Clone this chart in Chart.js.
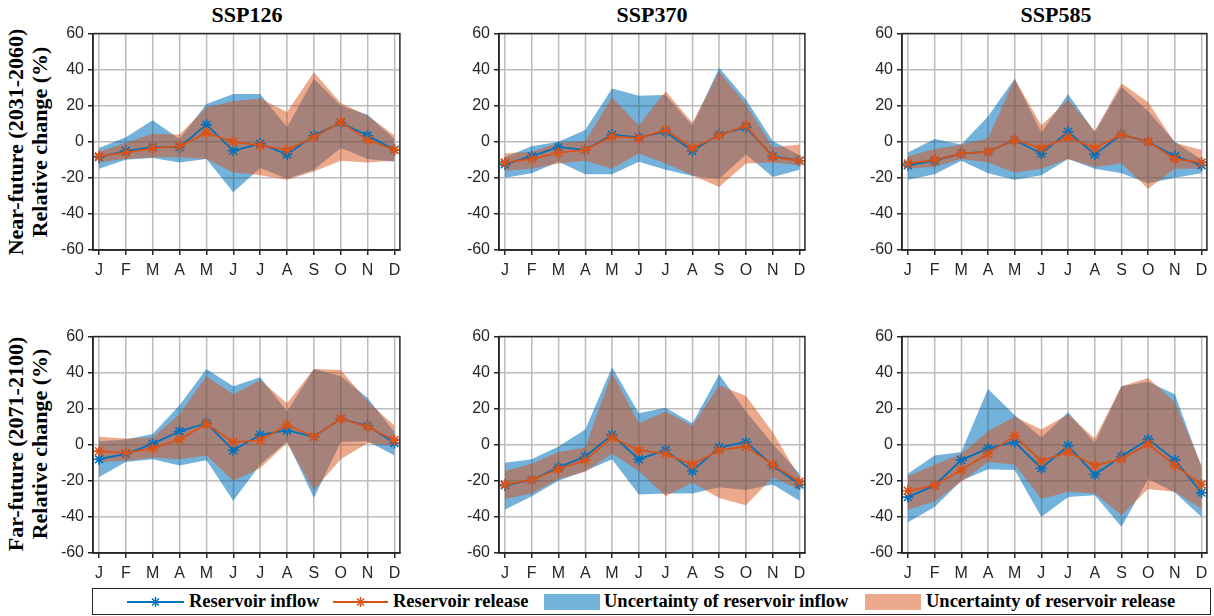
<!DOCTYPE html>
<html>
<head>
<meta charset="utf-8">
<script src="https://cdn.jsdelivr.net/npm/chart.js@4.4.1/dist/chart.umd.min.js"></script>
<style>
  body { margin: 0; background: #fff; }
  #page { position: relative; width: 1214px; height: 616px; overflow: hidden; background: #fff; }
  .box { position: absolute; }
  .title { position: absolute; width: 300px; text-align: center; font: bold 22px "Liberation Serif", serif; color: #000; }
  .ylab { position: absolute; width: 270px; height: 48px; text-align: center; font: bold 22px/24px "Liberation Serif", serif; color: #000; transform: rotate(-90deg); }
  #legend { position: absolute; left: 92px; top: 588px; width: 1119px; height: 27px; box-sizing: border-box; border: 1px solid #262626; background: #fff; }
  #legend .t { position: absolute; top: 0; font: bold 18.5px/25px "Liberation Serif", serif; color: #000; white-space: nowrap; }
  #legend svg, #legend .patch { position: absolute; }
</style>
</head>
<body>
<div id="page">
  <div class="title" style="left:97px;top:2px">SSP126</div>
  <div class="title" style="left:502px;top:2px">SSP370</div>
  <div class="title" style="left:906px;top:2px">SSP585</div>

  <div class="ylab" style="left:-107px;top:118px">Near-future (2031-2060)<br>Relative change (%)</div>
  <div class="ylab" style="left:-107px;top:420px">Far-future (2071-2100)<br>Relative change (%)</div>

  <div class="box" style="left:43px;top:20px"><canvas id="p1" width="364" height="262"></canvas></div>
  <div class="box" style="left:449px;top:20px"><canvas id="p2" width="363" height="262"></canvas></div>
  <div class="box" style="left:852px;top:20px"><canvas id="p3" width="362" height="262"></canvas></div>
  <div class="box" style="left:43px;top:323px"><canvas id="p4" width="364" height="262"></canvas></div>
  <div class="box" style="left:449px;top:323px"><canvas id="p5" width="363" height="262"></canvas></div>
  <div class="box" style="left:852px;top:323px"><canvas id="p6" width="362" height="262"></canvas></div>

  <div id="legend">
    <svg style="left:34px;top:4px" width="57" height="18">
      <line x1="0" y1="9" x2="57" y2="9" stroke="rgb(0,114,189)" stroke-width="2"/>
      <g stroke="rgb(0,114,189)" stroke-width="1.5">
        <line x1="28.5" y1="4" x2="28.5" y2="14"/><line x1="23.5" y1="9" x2="33.5" y2="9"/>
        <line x1="25" y1="5.5" x2="32" y2="12.5"/><line x1="25" y1="12.5" x2="32" y2="5.5"/>
      </g>
    </svg>
    <span class="t" style="left:96px">Reservoir inflow</span>
    <svg style="left:240px;top:4px" width="55" height="18">
      <line x1="0" y1="9" x2="55" y2="9" stroke="rgb(217,83,25)" stroke-width="2"/>
      <g stroke="rgb(217,83,25)" stroke-width="1.5">
        <line x1="27.5" y1="4" x2="27.5" y2="14"/><line x1="22.5" y1="9" x2="32.5" y2="9"/>
        <line x1="24" y1="5.5" x2="31" y2="12.5"/><line x1="24" y1="12.5" x2="31" y2="5.5"/>
      </g>
    </svg>
    <span class="t" style="left:300px">Reservoir release</span>
    <div class="patch" style="left:451px;top:5px;width:56px;height:16px;background:rgba(0,114,189,0.55)"></div>
    <span class="t" style="left:511px">Uncertainty of reservoir inflow</span>
    <div class="patch" style="left:772px;top:5px;width:56px;height:16px;background:rgba(217,83,25,0.5)"></div>
    <span class="t" style="left:833px">Uncertainty of reservoir release</span>
  </div>
</div>

<script>
const months = ['J', 'F', 'M', 'A', 'M', 'J', 'J', 'A', 'S', 'O', 'N', 'D'];
const monthNums = [1, 2, 3, 4, 5, 6, 7, 8, 9, 10, 11, 12];
const yTicks = [-60, -40, -20, 0, 20, 40, 60];

// near-future (2031-2060), SSP126
const nf126Inflow  = [-8.5, -5, -3, -3, 9.5, -5, -1, -7, 3.5, 10.5, 3.5, -4.5];
const nf126Release = [-8, -6, -3.5, -2.5, 5, 0, -2, -4.5, 2.5, 11, 1, -4.5];
const nf126InHigh  = [-3.5, 2.5, 12, 1.5, 21, 26.5, 26.5, 8, 35, 20, 15, 1.5];
const nf126InLow   = [-15, -10, -9, -11.5, -9.5, -28, -14.5, -20.5, -15.5, -3.5, -9.5, -11];
const nf126ReHigh  = [-5.5, -0.5, 4.5, 4, 19, 22.5, 24, 16.5, 38.5, 21.5, 14.5, 3.5];
const nf126ReLow   = [-11.5, -9.5, -8.5, -8.5, -9.5, -17, -18.5, -21, -16.5, -10.5, -11.5, -10.5];

// near-future, SSP370
const nf370Inflow  = [-12.5, -8, -3, -4.5, 4, 2.5, 5.5, -5, 4, 8, -8, -10.5];
const nf370Release = [-11.5, -9.5, -6, -4.5, 3, 2, 6.5, -3.5, 3.5, 9, -8.5, -10.5];
const nf370InHigh  = [-8.5, -2.5, 0, 6.5, 29.5, 25.5, 26, 9, 41, 23.5, 0.5, -7.5];
const nf370InLow   = [-20, -17.5, -11, -18, -18, -11, -15.5, -19, -20.5, -7, -19.5, -15.5];
const nf370ReHigh  = [-6.5, -5.5, -0.5, 0.5, 24.5, 9, 28, 10.5, 39, 20.5, -3, -1.5];
const nf370ReLow   = [-16, -15, -12, -10.5, -15, -6.5, -12, -18.5, -25, -12, -11.5, -13];

// near-future, SSP585
const nf585Inflow  = [-13, -10.5, -6.5, -5.5, 1, -6.5, 5.5, -7, 4, 0, -8, -13];
const nf585Release = [-12, -10, -6.5, -5.5, 1, -3.5, 2.5, -3.5, 4, 0, -9.5, -11.5];
const nf585InHigh  = [-6, 1.5, -1.5, 14, 35, 5, 26.5, 5.5, 30.5, 17, 0, -10];
const nf585InLow   = [-21, -18, -10.5, -17.5, -21, -18.5, -9.5, -15, -17.5, -23, -20, -17.5];
const nf585ReHigh  = [-8, -4, -1.5, 2, 35, 9, 23.5, 6, 32.5, 22, -0.5, -4.5];
const nf585ReLow   = [-15, -14, -9.5, -11.5, -17, -15, -9.5, -14, -12, -26, -15, -15];

// far-future (2071-2100), SSP126
const ff126Inflow  = [-8, -5, 0.5, 7.5, 12, -3, 5.5, 8, 4.5, 14.5, 10.5, 1];
const ff126Release = [-3.5, -4.5, -2, 3, 11.5, 1.5, 2.5, 11, 4.5, 14.5, 10, 2.5];
const ff126InHigh  = [2, 3, 6, 22, 42, 32.5, 37.5, 18.5, 42, 38, 26, 7];
const ff126InLow   = [-18, -9.5, -8, -11.5, -8.5, -31, -11, 2, -29.5, 1.5, 2, -6];
const ff126ReHigh  = [4.5, 3.5, 4, 17, 38, 28, 36, 23, 42, 41.5, 24, 10.5];
const ff126ReLow   = [-9.5, -9, -7, -8, -6, -20, -13, 1, -25, -8, 1, -0.5];

// far-future, SSP370
const ff370Inflow  = [-22.5, -19.5, -12.5, -6.5, 5.5, -8, -3, -14.5, -1.5, 1.5, -11.5, -22];
const ff370Release = [-22, -19.5, -13.5, -8.5, 4, -3, -5, -11, -3, -1, -11, -20.5];
const ff370InHigh  = [-10, -8, -1, 8.5, 43, 17.5, 20.5, 12, 39, 18.5, 0.5, -16];
const ff370InLow   = [-36, -28.5, -20, -14.5, -8, -27.5, -27, -27, -23.5, -25, -22, -31];
const ff370ReHigh  = [-14.5, -10.5, -4, -1.5, 40, 12, 18.5, 10.5, 33, 27, 7, -18];
const ff370ReLow   = [-30, -27, -19, -15, -5, -14.5, -28.5, -21, -29.5, -33.5, -18, -25];

// far-future, SSP585
const ff585Inflow  = [-29, -22.5, -8.5, -2, 1.5, -13, -0.5, -16.5, -6.5, 3, -8.5, -26.5];
const ff585Release = [-25.5, -22.5, -14, -5, 5, -9, -4, -11.5, -8, 0.5, -11.5, -22];
const ff585InHigh  = [-16, -6, -4, 31, 16.5, 4, 18, 1, 32.5, 35, 28, -12.5];
const ff585InLow   = [-43, -34.5, -20, -13.5, -14, -40, -29, -28, -45.5, -19, -26.5, -40];
const ff585ReHigh  = [-17.5, -11, -5, 7.5, 15.5, 8.5, 17, 3.5, 32.5, 37, 23.5, -11.5];
const ff585ReLow   = [-36, -31.5, -20.5, -9.5, -11, -30, -26, -27, -39, -24.5, -26, -35.5];

const blue = 'rgb(0, 114, 189)';
const orange = 'rgb(217, 83, 25)';
const blueFill = 'rgba(0, 114, 189, 0.55)';
const orangeFill = 'rgba(217, 83, 25, 0.5)';
const axisColor = '#262626';

function pts(values) {
  return values.map((v, i) => ({ x: monthNums[i], y: v }));
}

function band(values, fillColor, order, fill) {
  return {
    data: pts(values),
    borderColor: 'rgba(0,0,0,0)',
    borderWidth: 0,
    backgroundColor: fillColor,
    pointRadius: 0,
    fill: fill,
    order: order,
  };
}

function line(values, color, order) {
  return {
    data: pts(values),
    borderColor: color,
    backgroundColor: color,
    borderWidth: 1.8,
    pointStyle: 'star',
    pointRadius: 5.5,
    pointBorderWidth: 1.6,
    pointBorderColor: color,
    fill: false,
    order: order,
  };
}

// faint grid again over the shaded bands, like the original figure
const gridOverPlugin = {
  id: 'gridOver',
  afterDatasetDraw(chart, args) {
    if (args.index !== 3) return;
    const { ctx, chartArea: a, scales } = chart;
    ctx.save();
    ctx.strokeStyle = 'rgba(60, 60, 60, 0.18)';
    ctx.lineWidth = 1.5;
    ctx.beginPath();
    scales.x.ticks.forEach(t => {
      const x = scales.x.getPixelForValue(t.value);
      ctx.moveTo(x, a.top);
      ctx.lineTo(x, a.bottom);
    });
    scales.y.ticks.forEach(t => {
      const y = scales.y.getPixelForValue(t.value);
      ctx.moveTo(a.left, y);
      ctx.lineTo(a.right, y);
    });
    ctx.stroke();
    ctx.restore();
  }
};

// box round the plot area (top and right sides as well)
const framePlugin = {
  id: 'frame',
  afterDraw(chart) {
    const { ctx, chartArea: a } = chart;
    ctx.save();
    ctx.strokeStyle = axisColor;
    ctx.lineWidth = 1.5;
    ctx.strokeRect(a.left, a.top, a.right - a.left, a.bottom - a.top);
    ctx.restore();
  }
};

function makePanel(id, inflow, release, inHigh, inLow, reHigh, reLow) {
  const config = {
    type: 'line',
    data: {
      datasets: [
        band(inHigh, blueFill, 6, '+1'),
        band(inLow, blueFill, 5, false),
        band(reHigh, orangeFill, 4, '+1'),
        band(reLow, orangeFill, 3, false),
        line(inflow, blue, 2),
        line(release, orange, 1),
      ]
    },
    options: {
      responsive: false,
      animation: false,
      events: [],
      layout: { padding: { top: 12, right: 6, left: 0, bottom: 0 } },
      plugins: { legend: { display: false }, tooltip: { enabled: false } },
      elements: { line: { tension: 0 } },
      scales: {
        x: {
          type: 'linear',
          min: 0.78,
          max: 12.2,
          afterFit: s => { s.height = 32; },
          afterBuildTicks: s => { s.ticks = monthNums.map(v => ({ value: v })); },
          grid: { color: '#dadada', lineWidth: 1.5, tickLength: 5, tickColor: axisColor, tickWidth: 1.5 },
          border: { color: axisColor, width: 1.5 },
          ticks: {
            maxRotation: 0,
            autoSkip: false,
            padding: 6,
            color: axisColor,
            font: { family: 'Liberation Sans', size: 16 },
            callback: v => months[v - 1],
          }
        },
        y: {
          min: -60,
          max: 60,
          afterFit: s => { s.width = 50; },
          afterBuildTicks: s => { s.ticks = yTicks.map(v => ({ value: v })); },
          grid: { color: '#dadada', lineWidth: 1.5, tickLength: 5, tickColor: axisColor, tickWidth: 1.5 },
          border: { color: axisColor, width: 1.5 },
          ticks: {
            padding: 4,
            color: axisColor,
            font: { family: 'Liberation Sans', size: 16 },
          }
        }
      }
    },
    plugins: [gridOverPlugin, framePlugin]
  };
  return new Chart(document.getElementById(id), config);
}

makePanel('p1', nf126Inflow, nf126Release, nf126InHigh, nf126InLow, nf126ReHigh, nf126ReLow);
makePanel('p2', nf370Inflow, nf370Release, nf370InHigh, nf370InLow, nf370ReHigh, nf370ReLow);
makePanel('p3', nf585Inflow, nf585Release, nf585InHigh, nf585InLow, nf585ReHigh, nf585ReLow);
makePanel('p4', ff126Inflow, ff126Release, ff126InHigh, ff126InLow, ff126ReHigh, ff126ReLow);
makePanel('p5', ff370Inflow, ff370Release, ff370InHigh, ff370InLow, ff370ReHigh, ff370ReLow);
makePanel('p6', ff585Inflow, ff585Release, ff585InHigh, ff585InLow, ff585ReHigh, ff585ReLow);
</script>
</body>
</html>
